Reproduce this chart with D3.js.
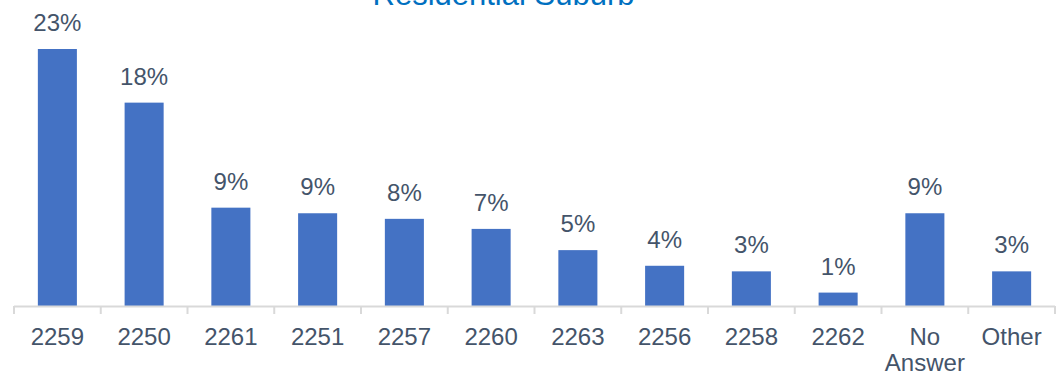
<!DOCTYPE html>
<html><head><meta charset="utf-8">
<script src="https://cdn.jsdelivr.net/npm/d3@7"></script>
<style>body{margin:0;background:#fff}svg{display:block;font-family:"Liberation Sans",Arial,sans-serif}</style>
</head><body><svg id="c" width="1064" height="382"></svg>
<script>
const categories = ["2259","2250","2261","2251","2257","2260","2263","2256","2258","2262","No Answer","Other"];
const values = [23.0, 18.2, 8.8, 8.3, 7.8, 6.9, 5.0, 3.6, 3.1, 1.2, 8.3, 3.1];
const valueLabels = ["23%","18%","9%","9%","8%","7%","5%","4%","3%","1%","9%","3%"];
const title = "Residential Suburb";

const svg = d3.select("#c");
const x = d3.scaleBand().domain(categories).range([14, 1055]).paddingInner(0.55).paddingOuter(0.275);
const y = d3.scaleLinear().domain([0, 23]).range([306, 49]);

svg.append("text").attr("x", 503.5).attr("y", 5).attr("text-anchor", "middle")
  .attr("fill", "#0070c0").attr("font-size", 31).text(title);

svg.selectAll("rect.bar").data(categories).join("rect").attr("class","bar")
  .attr("x", d => x(d)).attr("width", x.bandwidth())
  .attr("y", (d,i) => y(values[i])).attr("height", (d,i) => y(0) - y(values[i]))
  .attr("fill", "#4472c4");

svg.selectAll("text.lbl").data(categories).join("text").attr("class","lbl")
  .attr("x", d => x(d) + x.bandwidth()/2).attr("y", (d,i) => y(values[i]) - 18)
  .attr("text-anchor","middle").attr("font-size", 24).attr("fill", "#44546a")
  .text((d,i) => valueLabels[i]);

// axis
const ax = svg.append("g");
ax.append("line").attr("x1", 14).attr("x2", 1055).attr("y1", 306.5).attr("y2", 306.5)
  .attr("stroke", "#d9d9d9").attr("stroke-width", 2);
const tickPos = categories.map(d => x(d) - x.step()*x.paddingInner()/2);
tickPos.push(1055);
ax.selectAll("line.tk").data(tickPos).join("line").attr("class","tk")
  .attr("x1", d => d).attr("x2", d => d).attr("y1", 306).attr("y2", 314)
  .attr("stroke", "#d9d9d9").attr("stroke-width", 2);
const tl = ax.selectAll("text.tl").data(categories).join("text").attr("class","tl")
  .attr("x", d => x(d) + x.bandwidth()/2).attr("y", 345)
  .attr("text-anchor","middle").attr("font-size", 24).attr("fill", "#44546a");
tl.each(function(d){
  const parts = d === "No Answer" ? ["No","Answer"] : [d];
  const t = d3.select(this);
  parts.forEach((p,i) => t.append("tspan").attr("x", x(d) + x.bandwidth()/2).attr("dy", i ? 26 : 0).text(p));
});
</script></body></html>
